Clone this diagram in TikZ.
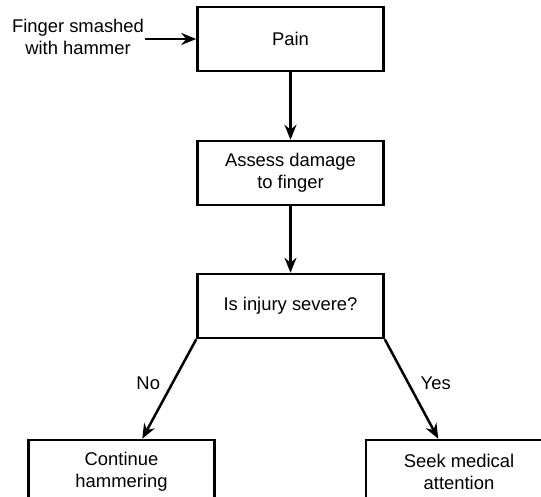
\documentclass[tikz,border=0pt]{standalone}
\usepackage{fontspec}
\setmainfont{Liberation Sans}
\usetikzlibrary{arrows.meta}
\begin{document}
\begin{tikzpicture}[x=1pt,y=-1pt,
  txt/.style={font=\fontsize{18.4}{22}\selectfont, align=center},
  box/.style={txt, draw, line width=2.5pt, minimum width=186pt, minimum height=64pt, inner sep=0pt},
  flow/.style={line width=2.5pt, -{Stealth[length=15pt,width=12pt,inset=5pt]}},
  lbl/.style={txt, inner sep=0pt}]
\useasboundingbox (0,0) rectangle (541,497);
\clip (0,0) rectangle (541,497);
% process boxes
\node[box] (pain)   at (290.5,39)  {Pain};
\node[box] (assess) at (290.5,173) {Assess damage\\to finger};
\node[box] (severe) at (290.5,306) {Is injury severe?};
\node[box] (cont)   at (121.5,472) {Continue\\hammering};
\node[box] (seek)   at (459,472)   {Seek medical\\attention};
% external trigger
\node[txt, inner sep=1pt] (smash) at (78,37) {Finger smashed\\with hammer};
% connectors
\draw[flow] (smash.east |- pain.west) -- (pain.west);
\draw[flow] (pain) -- (assess);
\draw[flow] (assess) -- (severe);
\draw[flow] (severe.south west) -- node[lbl, midway, anchor=east, xshift=-8pt, yshift=6pt] {No} (cont.58);
\draw[flow] (severe.south east) -- node[lbl, midway, anchor=west, xshift=8pt, yshift=6pt] {Yes} (seek.122);
\end{tikzpicture}
\end{document}
